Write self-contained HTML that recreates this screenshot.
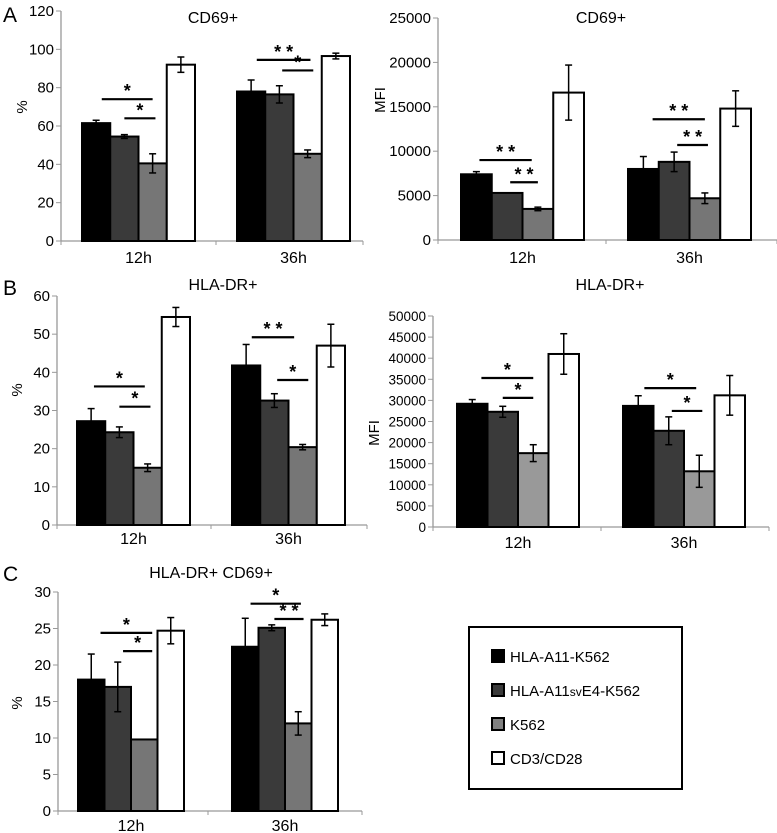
<!DOCTYPE html>
<html><head><meta charset="utf-8">
<style>
html,body{margin:0;padding:0;background:#fff;}
body{width:777px;height:833px;overflow:hidden;position:relative;font-family:"Liberation Sans",Arial,sans-serif;}
svg{position:absolute;left:0;top:0;}
text{font-family:"Liberation Sans",Arial,sans-serif;fill:#000;}
</style></head>
<body>
<svg id="fig" width="777" height="833" viewBox="0 0 777 833"></svg>
<script>
// ---- data ----
const categories = ["12h","36h"];
const seriesNames = ["HLA-A11-K562","HLA-A11svE4-K562","K562","CD3/CD28"];
// Panel A left: CD69+ %
const a1Values = [[61.5,54.5,40.5,92],[78,76.5,45.5,96.5]];
const a1Errors = [[1.5,1,5,4],[6,4.5,2,1.5]];
const a1Ticks = [0,20,40,60,80,100,120];
const a1Sig = [[0,0.7,2.5,74,"*"],[0,1.5,2.6,64,"*"],[1,0.7,2.6,94.5,"* *"],[1,1.6,2.7,89,"*"]];
// Panel A right: CD69+ MFI
const a2Values = [[7400,5300,3500,16600],[8000,8800,4700,14800]];
const a2Errors = [[300,0,200,3100],[1400,1100,600,2000]];
const a2Ticks = [0,5000,10000,15000,20000,25000];
const a2Sig = [[0,0.6,2.3,9000,"* *"],[0,1.6,2.5,6500,"* *"],[1,0.8,2.5,13600,"* *"],[1,1.6,2.6,10700,"* *"]];
// Panel B left: HLA-DR+ %
const b1Values = [[27.2,24.3,15,54.5],[41.8,32.6,20.4,47]];
const b1Errors = [[3.3,1.4,1,2.5],[5.5,1.8,0.7,5.6]];
const b1Ticks = [0,10,20,30,40,50,60];
const b1Sig = [[0,0.6,2.4,36.3,"*"],[0,1.5,2.6,31,"*"],[1,0.7,2.2,49.2,"* *"],[1,1.6,2.7,38,"*"]];
// Panel B right: HLA-DR+ MFI
const b2Values = [[29200,27300,17500,41000],[28700,22800,13200,31200]];
const b2Errors = [[1000,1300,2000,4800],[2400,3300,3800,4700]];
const b2Ticks = [0,5000,10000,15000,20000,25000,30000,35000,40000,45000,50000];
const b2Sig = [[0,0.8,2.5,35300,"*"],[0,1.5,2.5,30600,"*"],[1,0.7,2.4,32900,"*"],[1,1.6,2.6,27500,"*"]];
// Panel C: HLA-DR+CD69+ %
const cValues = [[18,17,9.8,24.7],[22.5,25.1,12,26.2]];
const cErrors = [[3.5,3.4,0,1.8],[3.9,0.4,1.6,0.8]];
const cTicks = [0,5,10,15,20,25,30];
const cSig = [[0,0.85,2.8,24.4,"*"],[0,1.7,2.8,21.9,"*"],[1,0.7,2.6,28.4,"*"],[1,1.6,2.7,26.3,"* *"]];

const NS="http://www.w3.org/2000/svg";
const fig=document.getElementById('fig');
function mk(tag,attrs,parent,txt){const e=document.createElementNS(NS,tag);for(const k in attrs)e.setAttribute(k,attrs[k]);if(txt!==undefined)e.textContent=txt;(parent||fig).appendChild(e);return e;}

function chart(cfg,values,errors,ticks,sig){
  const g=mk('g',{});
  
  
  const ymax=ticks[ticks.length-1];
  const Y=v=>cfg.y0-(v/ymax)*(cfg.y0-cfg.yTop);
  const bw=cfg.gw/4;
  const X=(gi,b)=>cfg.gx[gi]+b*bw;
  const ax=mk('line',{x1:cfg.ax,y1:cfg.yTop,x2:cfg.ax,y2:cfg.y0,stroke:'#999','stroke-width':1.3},g);
  
  
  const xl=mk('line',{x1:cfg.ax,y1:cfg.y0,x2:cfg.xEnd,y2:cfg.y0,stroke:'#999','stroke-width':1.3},g);
  
  
  [cfg.ax,(cfg.gx[0]+cfg.gw+cfg.gx[1])/2,cfg.xEnd].forEach(x=>mk('line',{x1:x,y1:cfg.y0,x2:x,y2:cfg.y0+4,stroke:'#999','stroke-width':1},g));
  ticks.forEach(t=>{
    mk('line',{x1:cfg.ax-5,y1:Y(t),x2:cfg.ax,y2:Y(t),stroke:'#999','stroke-width':1},g);
    const tl=mk('text',{x:cfg.ax-7,y:Y(t)+5,'text-anchor':'end','font-size':cfg.tfs||15},g,String(t));
    
    
  });
  const fills=['#000','#3a3a3a',cfg.gray,'#fff'];
  values.forEach((gv,gi)=>{
    gv.forEach((v,b)=>{
      const r=mk('rect',{x:X(gi,b),y:Y(v),width:bw,height:cfg.y0-Y(v),fill:fills[b],stroke:'#000','stroke-width':2},g);
      
      
    });
    gv.forEach((v,b)=>{
      const e=errors[gi][b]; if(!e) return;
      const cx=X(gi,b)+bw/2;
      const eg=mk('g',{stroke:'#000','stroke-width':1.5},g);
      
      
      mk('line',{x1:cx,y1:Y(v+e),x2:cx,y2:Y(v-e)},eg);
      mk('line',{x1:cx-3.5,y1:Y(v+e),x2:cx+3.5,y2:Y(v+e)},eg);
      mk('line',{x1:cx-3.5,y1:Y(v-e),x2:cx+3.5,y2:Y(v-e)},eg);
    });
    const cl=mk('text',{x:cfg.gx[gi]+cfg.gw/2,y:cfg.catY,'text-anchor':'middle','font-size':16},g,categories[gi]);
    
    
  });
  sig.forEach(s=>{
    const x1=X(s[0],s[1]),x2=X(s[0],s[2]),y=Y(s[3]);
    const sl=mk('line',{x1:x1,y1:y,x2:x2,y2:y,stroke:'#000','stroke-width':2.2},g);
    
    
    const st=mk('text',{x:(x1+x2)/2,y:y-2,'text-anchor':'middle','font-size':18,'font-weight':'bold'},g,s[4]);
    
    
  });
  const tt=mk('text',{x:cfg.titleX,y:cfg.titleY,'text-anchor':'middle','font-size':16},g,cfg.title);
  
  
  const yt=mk('text',{x:cfg.ylX,y:cfg.ylY,'text-anchor':'middle','font-size':15,transform:`rotate(-90 ${cfg.ylX} ${cfg.ylY})`},g,cfg.ylabel);
  
  
}

chart({name:'chart-a-cd69-percent',ax:61,xEnd:363,y0:241,yTop:11,gx:[82,237],gw:113,gray:'#767676',catY:263,title:'CD69+',titleX:213,titleY:23,ylabel:'%',ylX:27,ylY:107},a1Values,a1Errors,a1Ticks,a1Sig);
chart({name:'chart-a-cd69-mfi',ax:438,xEnd:777,y0:240,yTop:18,gx:[461,628],gw:123,gray:'#767676',catY:263,title:'CD69+',titleX:601,titleY:23,ylabel:'MFI',ylX:385,ylY:100},a2Values,a2Errors,a2Ticks,a2Sig);
chart({name:'chart-b-hladr-percent',ax:57,xEnd:367,y0:525,yTop:296,gx:[77,232],gw:113,gray:'#767676',catY:544,title:'HLA-DR+',titleX:223,titleY:290,ylabel:'%',ylX:22,ylY:390},b1Values,b1Errors,b1Ticks,b1Sig);
chart({name:'chart-b-hladr-mfi',ax:433,xEnd:769,y0:527,yTop:316,gx:[457,623],gw:122,gray:'#999',catY:548,title:'HLA-DR+',titleX:610,titleY:290,ylabel:'MFI',ylX:379,ylY:433,tfs:13.5},b2Values,b2Errors,b2Ticks,b2Sig);
chart({name:'chart-c-hladr-cd69-percent',ax:58,xEnd:362,y0:811,yTop:592,gx:[78,232],gw:106,gray:'#767676',catY:831,title:'HLA-DR+ CD69+',titleX:211,titleY:578,ylabel:'%',ylX:22,ylY:703},cValues,cErrors,cTicks,cSig);

[['A',3,22],['B',3,295],['C',3,581]].forEach(p=>{
  const t=mk('text',{x:p[1],y:p[2],'font-size':21},fig,p[0]);
  
  
});

const lg=mk('g',{});


mk('rect',{x:469,y:627,width:213,height:162,fill:'#fff',stroke:'#000','stroke-width':2},lg);
const lf=['#000','#3a3a3a','#808080','#fff'];
seriesNames.forEach((n,i)=>{
  const cy=656+i*34;
  const e=mk('g',{},lg);
  
  
  mk('rect',{x:492,y:cy-6,width:12,height:12,fill:lf[i],stroke:'#000','stroke-width':2},e);
  const t=mk('text',{x:510,y:cy+6,'font-size':15},e);
  if(n.indexOf('sv')>=0){
    const parts=n.split('sv');
    mk('tspan',{},t,parts[0]);
    mk('tspan',{'font-size':12},t,'sv');
    mk('tspan',{},t,parts[1]);
  } else t.textContent=n;
});
</script>
</body></html>
